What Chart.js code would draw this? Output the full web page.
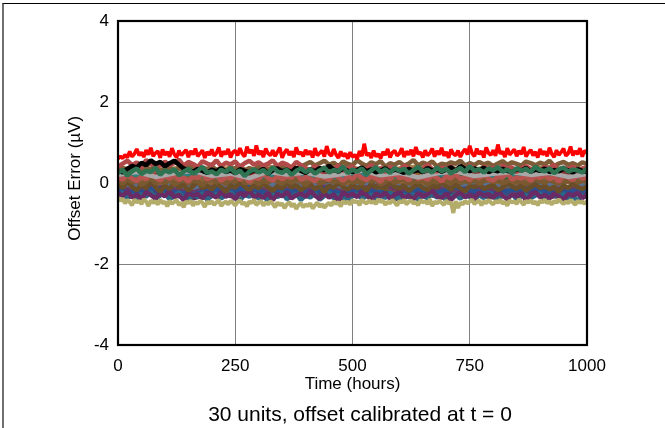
<!DOCTYPE html>
<html><head><meta charset="utf-8">
<script src="https://cdn.jsdelivr.net/npm/chart.js@4.4.1/dist/chart.umd.min.js"></script>
<style>
html,body{margin:0;padding:0;background:#fff;overflow:hidden;}
#wrap{position:relative;width:665px;height:428px;overflow:hidden;}
#frame{position:absolute;left:2px;top:3px;width:700px;height:460px;border-left:2px solid #707070;border-top:1px solid #000;pointer-events:none;}
canvas{display:block;}
</style></head><body>
<div id="wrap"><canvas id="c" width="665" height="428"></canvas><div id="frame"></div></div>
<script>
// time grid (hours)
const hours = [0,5,10,15,20,25,30,35,40,45,50,55,60,65,70,75,80,85,90,95,
100,105,110,115,120,125,130,135,140,145,150,155,160,165,170,175,180,185,190,195,
200,205,210,215,220,225,230,235,240,245,250,255,260,265,270,275,280,285,290,295,
300,305,310,315,320,325,330,335,340,345,350,355,360,365,370,375,380,385,390,395,
400,405,410,415,420,425,430,435,440,445,450,455,460,465,470,475,480,485,490,495,
500,505,510,515,520,525,530,535,540,545,550,555,560,565,570,575,580,585,590,595,
600,605,610,615,620,625,630,635,640,645,650,655,660,665,670,675,680,685,690,695,
700,705,710,715,720,725,730,735,740,745,750,755,760,765,770,775,780,785,790,795,
800,805,810,815,820,825,830,835,840,845,850,855,860,865,870,875,880,885,890,895,
900,905,910,915,920,925,930,935,940,945,950,955,960,965,970,975,980,985,990,995,1000];
const xTicks = [0,250,500,750,1000];
const yTicks = [-4,-2,0,2,4];
const chartTitle = '30 units, offset calibrated at t = 0';

// offset error (µV), one array per unit (sampled every 5, 10 or 40 hours)
const red = [0.60,0.66,0.61,0.70,0.63,0.78,0.65,0.72,0.84,0.68,
0.76,0.64,0.81,0.70,0.87,0.66,0.74,0.79,0.62,0.83,
0.69,0.77,0.65,0.86,0.71,0.63,0.80,0.68,0.75,0.82,
0.64,0.79,0.70,0.85,0.66,0.73,0.81,0.62,0.77,0.69,
0.83,0.67,0.74,0.88,0.65,0.78,0.71,0.84,0.63,0.76,
0.80,0.68,0.86,0.72,0.65,0.90,0.74,0.82,0.67,0.93,
0.70,0.79,0.64,0.85,0.73,0.68,0.81,0.66,0.77,0.87,
0.62,0.75,0.83,0.69,0.78,0.64,0.88,0.71,0.76,0.66,
0.82,0.70,0.79,0.63,0.86,0.68,0.74,0.80,0.65,0.91,
0.72,0.67,0.84,0.70,0.62,0.78,0.66,0.73,0.60,0.76,
0.64,0.70,0.59,0.79,0.66,0.97,0.68,0.74,0.62,0.80,
0.65,0.72,0.61,0.77,0.69,0.84,0.63,0.75,0.80,0.67,
0.73,0.86,0.64,0.78,0.70,0.82,0.66,0.89,0.71,0.76,
0.63,0.81,0.68,0.74,0.85,0.65,0.79,0.70,0.87,0.67,
0.77,0.62,0.83,0.72,0.68,0.80,0.64,0.76,0.84,0.70,
0.92,0.73,0.66,0.85,0.71,0.79,0.63,0.88,0.74,0.69,
0.81,0.67,0.95,0.72,0.78,0.64,0.86,0.70,0.76,0.83,
0.66,0.80,0.71,0.89,0.65,0.75,0.82,0.68,0.77,0.63,
0.84,0.70,0.78,0.66,0.87,0.72,0.64,0.81,0.69,0.76,
0.85,0.67,0.73,0.90,0.68,0.79,0.71,0.86,0.65,0.80,0.74];
const olive = [-0.36,-0.44,-0.39,-0.50,-0.42,-0.47,-0.55,-0.41,-0.48,-0.44,
-0.52,-0.40,-0.46,-0.57,-0.43,-0.49,-0.45,-0.53,-0.41,-0.50,
-0.46,-0.58,-0.44,-0.51,-0.47,-0.42,-0.55,-0.48,-0.60,-0.45,
-0.50,-0.43,-0.56,-0.47,-0.52,-0.44,-0.49,-0.59,-0.46,-0.51,
-0.45,-0.54,-0.48,-0.42,-0.57,-0.50,-0.46,-0.53,-0.44,-0.49,
-0.55,-0.47,-0.43,-0.52,-0.48,-0.58,-0.45,-0.50,-0.41,-0.54,
-0.49,-0.44,-0.56,-0.47,-0.53,-0.45,-0.51,-0.60,-0.48,-0.55,
-0.50,-0.62,-0.53,-0.47,-0.58,-0.51,-0.64,-0.55,-0.49,-0.60,
-0.53,-0.57,-0.50,-0.63,-0.55,-0.48,-0.59,-0.52,-0.61,-0.54,
-0.49,-0.56,-0.45,-0.52,-0.47,-0.58,-0.44,-0.50,-0.46,-0.53,
-0.42,-0.48,-0.44,-0.55,-0.41,-0.47,-0.51,-0.43,-0.49,-0.45,
-0.52,-0.40,-0.47,-0.43,-0.54,-0.46,-0.50,-0.42,-0.48,-0.56,
-0.44,-0.49,-0.41,-0.53,-0.46,-0.43,-0.51,-0.47,-0.55,-0.42,
-0.48,-0.45,-0.52,-0.40,-0.57,-0.46,-0.50,-0.44,-0.49,-0.54,
-0.43,-0.51,-0.47,-0.74,-0.45,-0.62,-0.48,-0.53,-0.44,-0.50,
-0.46,-0.41,-0.52,-0.47,-0.43,-0.55,-0.45,-0.50,-0.42,-0.48,
-0.53,-0.44,-0.49,-0.41,-0.51,-0.46,-0.56,-0.43,-0.48,-0.45,
-0.52,-0.40,-0.47,-0.54,-0.44,-0.49,-0.42,-0.51,-0.46,-0.55,
-0.43,-0.48,-0.41,-0.50,-0.45,-0.53,-0.44,-0.49,-0.40,-0.47,
-0.52,-0.45,-0.50,-0.42,-0.48,-0.54,-0.44,-0.49,-0.46,-0.51,-0.45];
const rose = [0.40,0.48,0.55,0.44,0.51,0.38,0.57,0.46,0.50,0.42,
0.53,0.45,0.49,0.58,0.43,0.52,0.47,0.39,0.54,0.48,
0.44,0.56,0.41,0.50,0.46,0.53,0.40,0.49,0.55,0.45,
0.51,0.43,0.48,0.56,0.42,0.50,0.46,0.38,0.52,0.44,
0.37,0.31,0.42,0.35,0.28,0.39,0.33,0.44,0.30,0.36,
0.41,0.29,0.38,0.34,0.45,0.32,0.37,0.27,0.40,0.35,
0.31,0.43,0.36,0.30,0.39,0.33,0.46,0.34,0.28,0.38,
0.35,0.41,0.30,0.37,0.32,0.44,0.36,0.29,0.40,0.34,
0.38,0.31,0.43,0.35,0.39,0.27,0.36,0.42,0.33,0.37,
0.30,0.40,0.35,0.45,0.32,0.38,0.34,0.41,0.29,0.36,0.39];
const tan = [0.33,0.38,0.30,0.41,0.35,0.28,0.39,0.34,0.43,0.31,
0.36,0.40,0.29,0.37,0.33,0.42,0.35,0.30,0.38,0.34,
0.41,0.32,0.36,0.29,0.39,0.35,0.44,0.31,0.37,0.33,
0.40,0.36,0.30,0.38,0.34,0.42,0.32,0.37,0.35,0.41,
0.46,0.52,0.43,0.49,0.55,0.45,0.50,0.41,0.53,0.47,
0.44,0.56,0.48,0.42,0.51,0.46,0.54,0.40,0.49,0.45,
0.52,0.43,0.48,0.57,0.44,0.50,0.46,0.53,0.41,0.48,
0.45,0.51,0.47,0.55,0.43,0.49,0.44,0.52,0.46,0.50,
0.42,0.48,0.54,0.45,0.51,0.47,0.43,0.53,0.49,0.44,
0.50,0.46,0.55,0.42,0.48,0.52,0.45,0.49,0.43,0.51,0.47];
const green = [0.25,0.32,0.18,0.29,0.36,0.22,0.30,0.27,0.38,0.20,
0.31,0.26,0.34,0.19,0.28,0.35,0.23,0.30,0.40,0.25,
0.29,0.21,0.33,0.27,0.37,0.24,0.31,0.17,0.28,0.34,
0.26,0.32,0.22,0.39,0.29,0.25,0.33,0.20,0.30,0.36,
0.27,0.34,0.23,0.31,0.38,0.26,0.32,0.29,0.41,0.24,
0.33,0.28,0.36,0.22,0.31,0.39,0.27,0.34,0.25,0.37,
0.30,0.35,0.23,0.32,0.40,0.28,0.33,0.26,0.38,0.29,
0.35,0.24,0.31,0.37,0.27,0.42,0.30,0.34,0.26,0.36,
0.31,0.39,0.28,0.33,0.25,0.37,0.30,0.35,0.27,0.40,
0.32,0.29,0.36,0.24,0.34,0.38,0.28,0.33,0.31,0.26,0.35];
const black = [0.30,0.26,0.35,0.42,0.38,0.50,0.44,0.56,0.47,0.52,
0.41,0.49,0.55,0.45,0.36,0.32,0.28,0.35,0.30,0.25,
0.33,0.29,0.37,0.27,0.31,0.24,0.34,0.30,0.26,0.32,
0.28,0.35,0.23,0.31,0.36,0.29,0.33,0.27,0.38,0.30,
0.25,0.34,0.29,0.37,0.31,0.43,0.33,0.28,0.36,0.30,
0.27,0.32,0.38,0.29,0.34,0.26,0.31,0.36,0.28,0.33,
0.30,0.25,0.35,0.29,0.32,0.27,0.37,0.31,0.34,0.28,
0.33,0.39,0.30,0.42,0.35,0.29,0.36,0.31,0.38,0.27,
0.32,0.29,0.35,0.30,0.26,0.34,0.31,0.37,0.28,0.33,
0.30,0.36,0.27,0.32,0.29,0.35,0.31,0.26,0.34,0.30,0.28];
const gray = [0.20,0.27,0.15,0.24,0.30,0.18,0.23,0.12,0.28,0.21,0.26,0.16,0.22,0.31,0.19,0.25,0.14,0.24,0.29,0.17,0.23,0.27,0.20,0.25,0.15,0.22];
const salmon = [0.15,0.08,0.20,0.11,0.04,0.17,0.09,0.24,0.13,0.06,
0.18,0.10,0.22,0.07,0.14,0.03,0.16,0.12,0.25,0.09,
0.13,0.19,0.05,0.15,0.11,0.21,0.08,0.17,0.02,0.14,
0.10,0.23,0.12,0.06,0.18,0.09,0.16,0.13,0.26,0.07,
0.15,0.11,0.04,0.19,0.12,0.08,0.20,0.14,0.05,0.17,
0.10,0.22,0.13,0.07,0.16,0.11,0.03,0.18,0.09,0.24,
0.12,0.15,0.06,0.20,0.10,0.14,0.08,0.19,0.13,0.04,
0.17,0.11,0.23,0.09,0.15,0.07,0.18,0.12,0.21,0.10,
0.06,0.16,0.13,0.25,0.08,0.14,0.11,0.19,0.05,0.17,
0.12,0.22,0.09,0.15,0.03,0.18,0.13,0.07,0.20,0.11,0.14];
const brown2 = [0.05,-0.02,0.10,0.01,0.08,-0.05,0.04,0.12,-0.01,0.06,
0.00,0.09,-0.04,0.03,0.11,-0.02,0.07,0.02,-0.06,0.05,
0.10,0.01,0.06,-0.03,0.08,0.02,0.13,-0.01,0.04,0.09,
-0.04,0.06,0.01,0.11,0.03,-0.02,0.07,0.00,0.10,0.04,
-0.05,0.05,0.08,-0.01,0.03,0.12,0.02,0.06,-0.03,0.09,
0.01,0.05,-0.02,0.10,0.04,0.07,-0.04,0.03,0.08,0.00,
0.06,0.11,-0.01,0.04,0.02,0.09,-0.05,0.05,0.01,0.07,
0.03,-0.02,0.10,0.04,0.06,0.00,0.08,-0.03,0.05,0.12,
0.02,0.07,-0.01,0.04,0.09,0.01,0.06,-0.04,0.03,0.10,
0.05,0.00,0.08,0.02,-0.02,0.07,0.04,0.11,0.01,0.06,0.03];
const brown = [-0.05,-0.12,0.02,-0.09,-0.18,-0.03,-0.14,0.05,-0.10,-0.21,
-0.06,-0.15,0.01,-0.11,-0.04,-0.19,-0.08,0.04,-0.13,-0.07,
-0.16,-0.02,-0.10,-0.22,-0.05,-0.12,0.03,-0.09,-0.17,-0.06,
-0.13,-0.01,-0.10,-0.20,-0.07,-0.14,0.02,-0.11,-0.05,-0.18,
-0.09,-0.03,-0.15,-0.08,-0.23,-0.06,-0.12,0.01,-0.10,-0.16,
-0.04,-0.13,-0.07,-0.19,-0.02,-0.11,-0.08,-0.15,0.04,-0.09,
-0.14,-0.05,-0.20,-0.10,-0.03,-0.12,-0.17,-0.06,-0.11,0.02,
-0.08,-0.16,-0.04,-0.13,-0.21,-0.07,-0.10,-0.02,-0.15,-0.09,
-0.05,-0.18,-0.11,0.00,-0.08,-0.14,-0.06,-0.19,-0.10,-0.03,
-0.12,-0.07,-0.16,-0.09,-0.22,-0.05,-0.13,-0.01,-0.10,-0.15,-0.08];
const purple = [-0.25,-0.32,-0.20,-0.36,-0.28,-0.41,-0.22,-0.30,-0.38,-0.26,
-0.33,-0.19,-0.35,-0.29,-0.43,-0.24,-0.31,-0.27,-0.39,-0.23,
-0.30,-0.36,-0.21,-0.34,-0.28,-0.40,-0.25,-0.32,-0.18,-0.35,
-0.29,-0.37,-0.24,-0.42,-0.27,-0.33,-0.22,-0.38,-0.30,-0.26,
-0.34,-0.20,-0.31,-0.39,-0.25,-0.36,-0.28,-0.44,-0.23,-0.32,
-0.27,-0.35,-0.21,-0.30,-0.41,-0.26,-0.33,-0.24,-0.38,-0.29,
-0.22,-0.36,-0.31,-0.40,-0.25,-0.34,-0.28,-0.19,-0.33,-0.37,
-0.26,-0.42,-0.30,-0.23,-0.35,-0.29,-0.39,-0.24,-0.32,-0.27,
-0.36,-0.21,-0.31,-0.40,-0.28,-0.34,-0.25,-0.43,-0.30,-0.22,
-0.35,-0.29,-0.38,-0.26,-0.33,-0.41,-0.27,-0.31,-0.24,-0.37,-0.30];
const navy = [-0.30,-0.24,-0.37,-0.29,-0.42,-0.27,-0.34,-0.21,-0.39,-0.31,
-0.26,-0.40,-0.33,-0.23,-0.36,-0.44,-0.28,-0.35,-0.25,-0.41,
-0.32,-0.27,-0.38,-0.30,-0.22,-0.37,-0.43,-0.29,-0.34,-0.26,
-0.39,-0.31,-0.45,-0.28,-0.35,-0.24,-0.40,-0.33,-0.27,-0.42,
-0.30,-0.36,-0.25,-0.41,-0.32,-0.23,-0.38,-0.29,-0.35,-0.43,
-0.31,-0.26,-0.39,-0.33,-0.28,-0.44,-0.30,-0.37,-0.24,-0.34,
-0.40,-0.29,-0.35,-0.27,-0.42,-0.31,-0.38,-0.25,-0.36,-0.30,
-0.43,-0.33,-0.28,-0.39,-0.26,-0.35,-0.41,-0.30,-0.37,-0.24,
-0.32,-0.45,-0.29,-0.36,-0.27,-0.40,-0.33,-0.28,-0.38,-0.31,
-0.25,-0.42,-0.34,-0.29,-0.37,-0.26,-0.40,-0.32,-0.44,-0.30,-0.35];
const u13 = [-0.18,-0.25,-0.12,-0.22,-0.28,-0.15,-0.21,-0.10,-0.26,-0.19,-0.23,-0.14,-0.27,-0.17,-0.22,-0.30,-0.16,-0.24,-0.11,-0.20,-0.26,-0.18,-0.13,-0.25,-0.21,-0.17];
const u14 = [0.04,0.10,-0.02,0.07,0.13,0.00,0.08,-0.04,0.06,0.11,0.02,0.09,-0.01,0.05,0.12,0.03,-0.03,0.08,0.01,0.10,0.04,-0.02,0.07,0.13,0.02,0.06];
const u15 = [0.14,0.20,0.09,0.17,0.23,0.11,0.16,0.06,0.19,0.13,0.21,0.08,0.15,0.24,0.12,0.18,0.10,0.22,0.14,0.07,0.17,0.20,0.11,0.16,0.09,0.18];
const u16 = [0.22,0.29,0.18,0.26,0.33,0.21,0.27,0.16,0.30,0.24,0.19,0.28,0.35,0.23,0.17,0.26,0.31,0.20,0.27,0.24,0.32,0.18,0.25,0.29,0.21,0.26];
const u17 = [-0.12,-0.19,-0.08,-0.16,-0.23,-0.11,-0.17,-0.06,-0.20,-0.14,-0.18,-0.09,-0.22,-0.13,-0.07,-0.17,-0.24,-0.12,-0.19,-0.10,-0.15,-0.21,-0.08,-0.16,-0.13,-0.18];
const u18 = [0.08,0.15,0.03,0.12,0.18,0.06,0.11,0.00,0.14,0.09,0.16,0.04,0.10,0.19,0.07,0.13,0.02,0.12,0.17,0.05,0.11,0.15,0.08,0.13,0.03,0.10];
const u19 = [-0.03,-0.10,0.03,-0.07,-0.13,0.00,-0.06,-0.15,-0.02,-0.09,0.04,-0.05,-0.12,-0.01,-0.08,0.02,-0.11,-0.04,-0.14,-0.03,-0.07,0.01,-0.10,-0.05,-0.12,-0.02];
const u20 = [0.18,0.24,0.13,0.21,0.28,0.16,0.22,0.11,0.25,0.19,0.14,0.23,0.29,0.17,0.12,0.21,0.26,0.15,0.22,0.19,0.27,0.13,0.20,0.24,0.16,0.21];
const u21 = [0.02,-0.05,0.07,-0.02,-0.09,0.04,-0.03,0.09,-0.06,0.01,-0.08,0.05,-0.01,-0.10,0.03,-0.04,0.06,-0.07,0.00,0.08,-0.03,-0.09,0.04,-0.02,0.06,-0.05];
const u22 = [0.28,0.35,0.23,0.31,0.38,0.26,0.32,0.21,0.34,0.29,0.24,0.33,0.39,0.27,0.22,0.31,0.36,0.25,0.30,0.28,0.37,0.23,0.30,0.34,0.26,0.31];
const u23 = [-0.22,-0.29,-0.18,-0.26,-0.33,-0.20,-0.27,-0.15,-0.30,-0.23,-0.28,-0.17,-0.32,-0.21,-0.26,-0.35,-0.19,-0.28,-0.16,-0.24,-0.31,-0.22,-0.18,-0.29,-0.25,-0.21];
const u24 = [-0.08,-0.14,-0.03,-0.11,-0.18,-0.06,-0.12,-0.01,-0.16,-0.09,-0.13,-0.04,-0.17,-0.07,-0.12,-0.20,-0.05,-0.14,-0.02,-0.10,-0.15,-0.08,-0.03,-0.13,-0.11,-0.06];
const u25 = [0.33,0.39,0.28,0.36,0.42,0.31,0.37,0.26,0.40,0.34,0.29,0.38,0.44,0.32,0.27,0.36,0.41,0.30,0.35,0.33,0.42,0.28,0.35,0.39,0.31,0.36];
const u26 = [-0.21,-0.15,-0.27,-0.19,-0.12,-0.24,-0.18,-0.29,-0.16,-0.22,-0.13,-0.25,-0.20,-0.10,-0.23,-0.17,-0.28,-0.14,-0.21,-0.26,-0.16,-0.11,-0.24,-0.19,-0.27,-0.18];
const u27 = [0.16,0.10,0.21,0.13,0.07,0.19,0.14,0.24,0.11,0.17,0.08,0.20,0.15,0.05,0.18,0.12,0.22,0.09,0.16,0.21,0.11,0.06,0.19,0.14,0.23,0.13];
const u28 = [-0.28,-0.34,-0.23,-0.31,-0.38,-0.26,-0.32,-0.21,-0.36,-0.29,-0.33,-0.24,-0.37,-0.27,-0.31,-0.40,-0.25,-0.33,-0.22,-0.30,-0.35,-0.28,-0.24,-0.34,-0.30,-0.26];
const u29 = [0.06,0.00,0.11,0.03,-0.03,0.09,0.04,0.14,0.01,0.07,-0.02,0.10,0.05,-0.05,0.08,0.02,0.12,-0.01,0.06,0.11,0.01,-0.04,0.09,0.04,0.13,0.03];
const u30 = [0.26,0.20,0.31,0.23,0.17,0.29,0.24,0.34,0.21,0.27,0.18,0.30,0.25,0.15,0.28,0.22,0.32,0.19,0.26,0.31,0.21,0.16,0.29,0.24,0.33,0.23];

// drawing order: first listed is drawn on top
const unitValues = [red, green, black, rose, tan, gray, salmon, brown2, brown, olive, purple, navy,
  u13,u14,u15,u16,u17,u18,u19,u20,u21,u22,u23,u24,u25,u26,u27,u28,u29,u30];
const unitColors = ['#ff0000','#2e7352','#000000','#b24a4a','#7e5c38','#a8a8a8','#b85450','#7a5830','#6a4e28','#b4ac6a','#6a2a66','#2a6688',
  '#2a4f8f','#8a6038','#2a7f80','#8a3030','#6a3a62','#3a5a30','#5a6f90','#8b6030','#606060','#b05050','#4a3a7a','#6e5a30','#a8844a','#305878','#9a7050','#5a2a50','#6a6a4a','#a06040'];
const unitWidths = [3.6,4.5,4.5,4.5,4.5,4.5,4.5,4.5,4.5,4,4.5,4.5,
  4.5,4.5,4.5,4.5,4.5,4.5,4.5,4.5,4.5,4.5,4.5,4.5,4.5,4.5,4.5,4.5,4.5,4.5];

const FONT = "'Liberation Sans', Arial, sans-serif";
Chart.defaults.font.family = FONT;
Chart.defaults.color = '#000';

const datasets = unitValues.map((vals, k) => {
  const step = (hours.length - 1) / (vals.length - 1);
  return {
    label: 'Unit ' + (k + 1),
    data: vals.map((v, i) => ({x: hours[Math.round(i * step)], y: v})),
    borderColor: unitColors[k],
    backgroundColor: unitColors[k],
    borderWidth: unitWidths[k],
    borderJoinStyle: 'bevel',
    pointRadius: 0,
    tension: 0,
    fill: false
  };
});

const frameAndTitle = {
  id: 'frameAndTitle',
  afterDatasetsDraw(chart) {
    const {ctx, chartArea: a} = chart;
    ctx.save();
    ctx.strokeStyle = '#000';
    ctx.lineWidth = 2.2;
    ctx.strokeRect(a.left, a.top, a.right - a.left, a.bottom - a.top);
    ctx.restore();
  },
  afterDraw(chart) {
    const {ctx} = chart;
    ctx.save();
    ctx.fillStyle = '#000';
    ctx.font = '21px ' + FONT;
    ctx.textAlign = 'center';
    ctx.textBaseline = 'middle';
    ctx.fillText(chartTitle, 360, 415);
    ctx.restore();
  }
};

new Chart(document.getElementById('c'), {
  type: 'line',
  data: {datasets},
  plugins: [frameAndTitle],
  options: {
    responsive: false,
    animation: false,
    events: [],
    layout: {padding: {left: 0, top: 21, right: 78, bottom: 26}},
    plugins: {
      legend: {display: false},
      tooltip: {enabled: false}
    },
    scales: {
      x: {
        type: 'linear', min: 0, max: 1000,
        afterBuildTicks: s => { s.ticks = xTicks.map(v => ({value: v})); },
        ticks: {font: {size: 17}, padding: 11, color: '#000', maxRotation: 0, callback: v => String(v)},
        grid: {color: '#808080', lineWidth: 1, drawTicks: false},
        border: {display: false},
        title: {display: true, text: 'Time (hours)', color: '#000', font: {size: 17}, padding: {top: 0, bottom: 7}},
        afterFit: s => { s.height = 57; }
      },
      y: {
        type: 'linear', min: -4, max: 4,
        afterBuildTicks: s => { s.ticks = yTicks.map(v => ({value: v})); },
        ticks: {font: {size: 17}, padding: 9, color: '#000', callback: v => String(v)},
        grid: {color: '#808080', lineWidth: 1, drawTicks: false},
        border: {display: false},
        title: {display: true, text: '\u00A0\u00A0Offset Error (µV)', color: '#000', font: {size: 17}, padding: {top: 65, bottom: 0}},
        afterFit: s => { s.width = 118; }
      }
    }
  }
});
</script>
</body></html>
